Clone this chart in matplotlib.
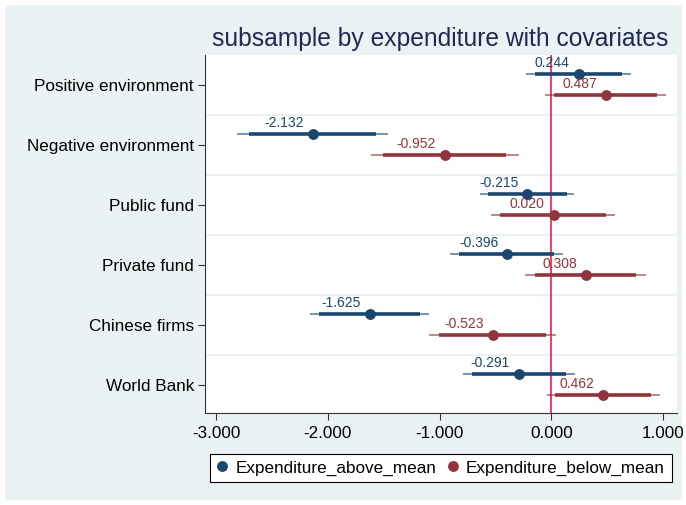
"""
Coefficient plot: subsample by expenditure with covariates.
"""
import matplotlib.pyplot as plt
from matplotlib.lines import Line2D
from matplotlib.patches import Rectangle

plt.rcParams["font.family"] = ["Liberation Sans", "DejaVu Sans"]

CATEGORIES = ["Positive environment", "Negative environment", "Public fund",
              "Private fund", "Chinese firms", "World Bank"]

# Expenditure above mean
ABOVE_EST = [0.244, -2.132, -0.215, -0.396, -1.625, -0.291]
ABOVE_LO95 = [-0.224, -2.813, -0.643, -0.906, -2.161, -0.792]
ABOVE_HI95 = [0.709, -1.459, 0.206, 0.105, -1.091, 0.209]
ABOVE_LO90 = [-0.143, -2.706, -0.571, -0.828, -2.078, -0.711]
ABOVE_HI90 = [0.634, -1.572, 0.141, 0.021, -1.175, 0.126]

# Expenditure below mean
BELOW_EST = [0.487, -0.952, 0.020, 0.308, -0.523, 0.462]
BELOW_LO95 = [-0.054, -1.617, -0.538, -0.233, -1.097, -0.039]
BELOW_HI95 = [1.022, -0.293, 0.571, 0.843, 0.045, 0.971]
BELOW_LO90 = [0.027, -1.504, -0.457, -0.143, -1.002, 0.036]
BELOW_HI90 = [0.942, -0.404, 0.484, 0.753, -0.051, 0.888]

XTICKS = [-3, -2, -1, 0, 1]

BLUE = "#1a476f"
RED = "#90353b"
BG = "#eaf2f3"

W, H = 686, 505


def draw_series(ax, est, lo95, hi95, lo90, hi90, offset, color):
    for i, e in enumerate(est):
        y = i + offset
        ax.plot([lo95[i], hi95[i]], [y, y], color=color, lw=1.1, alpha=0.75,
                solid_capstyle="butt", zorder=3)
        ax.plot([lo90[i], hi90[i]], [y, y], color=color, lw=2.6,
                solid_capstyle="butt", zorder=4)
        ax.plot(e, y, "o", color=color, ms=6.8, zorder=5)
        ax.annotate(f"{e:.3f}", (e, y), xytext=(-9, 7), textcoords="offset pixels",
                    ha="right", va="baseline", fontsize=10, color=color, zorder=6)


def main():
    fig = plt.figure(figsize=(W / 100, H / 100), dpi=100, facecolor="white")
    bg = Rectangle((5 / W, 5 / H), 677 / W, 495 / H, transform=fig.transFigure,
                   facecolor=BG, edgecolor="none", zorder=-10)
    fig.add_artist(bg)

    ax = fig.add_axes([205 / W, 1 - 413 / H, 472 / W, 358.5 / H])
    ax.set_facecolor("white")

    for k in range(len(CATEGORIES) - 1):
        ax.axhline(k + 0.5, color=BG, lw=1.6, zorder=1)
    ax.axvline(0, color="#e0103c", lw=1.1, zorder=2)

    draw_series(ax, ABOVE_EST, ABOVE_LO95, ABOVE_HI95, ABOVE_LO90, ABOVE_HI90, -0.18, BLUE)
    draw_series(ax, BELOW_EST, BELOW_LO95, BELOW_HI95, BELOW_LO90, BELOW_HI90, 0.165, RED)

    ax.set_xlim(-3.099, 1.123)
    ax.set_ylim(5.47, -0.51)
    ax.set_yticks(range(len(CATEGORIES)))
    ax.set_yticklabels(CATEGORIES, fontsize=12.3)
    ax.set_xticks(XTICKS)
    ax.set_xticklabels([f"{t:.3f}" for t in XTICKS], fontsize=12.3)
    ax.tick_params(axis="both", length=5, width=0.8, color="#333333")
    ax.tick_params(axis="y", pad=3)
    ax.tick_params(axis="x", pad=4)
    for s in ("top", "right"):
        ax.spines[s].set_visible(False)
    for s in ("left", "bottom"):
        ax.spines[s].set_color("#333333")
        ax.spines[s].set_linewidth(0.8)

    fig.text(440 / W, 1 - 46 / H, "subsample by expenditure with covariates",
             ha="center", va="baseline", fontsize=17.7, color="#1e2a55")

    handles = [
        Line2D([], [], marker="o", ls="none", color=BLUE, ms=6.8),
        Line2D([], [], marker="o", ls="none", color=RED, ms=6.8),
    ]
    leg = fig.legend(handles, ["Expenditure_above_mean", "Expenditure_below_mean"],
                     loc="center", bbox_to_anchor=(441 / W, 1 - 468 / H), ncol=2,
                     fontsize=12.3, frameon=True, fancybox=False, handlelength=0.6,
                     handletextpad=0.45, columnspacing=0.7, borderpad=0.4,
                     borderaxespad=0)
    leg.get_frame().set_edgecolor("black")
    leg.get_frame().set_linewidth(0.8)
    leg.get_frame().set_facecolor("white")
    leg.get_frame().set_alpha(1)

    fig.savefig("out.png", dpi=100, facecolor=fig.get_facecolor())
    plt.close(fig)


if __name__ == "__main__":
    main()
